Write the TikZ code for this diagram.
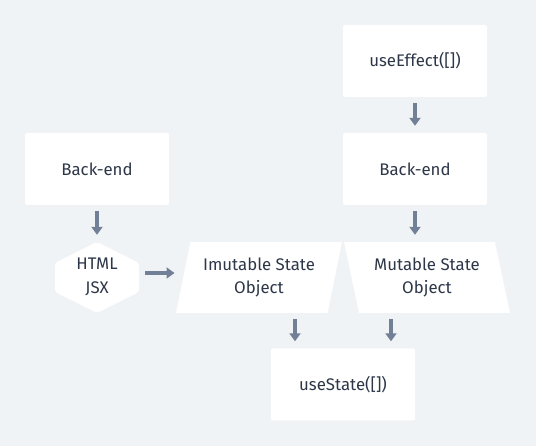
\documentclass[tikz,border=0pt]{standalone}
\usepackage{fontspec}
\setmainfont{Fira Sans}
\usetikzlibrary{arrows.meta,shapes.geometric}
\definecolor{bgcol}{HTML}{F0F3F6}
\definecolor{arrcol}{HTML}{718096}
\definecolor{txtcol}{HTML}{2D3748}
\tikzset{
  box/.style={rectangle, fill=white, rounded corners=2pt, minimum width=144pt, minimum height=72pt},
  para/.style={trapezium, fill=white, trapezium stretches, minimum width=166pt, minimum height=71pt, align=center},
  arr/.style={arrcol, line width=3.5pt, -{Triangle[width=11pt,length=8pt]}, shorten <=6pt, shorten >=7pt}
}

\begin{document}
\begin{tikzpicture}[x=1pt,y=-1pt, font=\fontsize{16.8}{23.5}\selectfont, text=txtcol]
  \fill[bgcol] (0,0) rectangle (536,446);
  \useasboundingbox (0,0) rectangle (536,446);
  % hexagon behind the html node
  \coordinate (hc) at (97,277);
  \fill[white, rounded corners=3pt] (hc) ++(0,-35) -- ++(42,21) -- ++(0,29) -- ++(-42,21) -- ++(-42,-21) -- ++(0,-29) -- cycle;
  \node[minimum width=84pt, minimum height=70pt, align=center] (hex) at (hc) {HTML\\JSX};
  \node[box] (effect) at (415,61) {useEffect([])};
  \node[box] (backR) at (415,169) {Back-end};
  \node[box] (backL) at (97,169) {Back-end};
  \node[para, trapezium left angle=75, trapezium right angle=105] (imu) at (259,277.5) {Imutable State\\Object};
  \node[para, trapezium left angle=105, trapezium right angle=75] (mut) at (427,277.5) {Mutable State\\Object};
  \node[box] (state) at (343,384.5) {useState([])};
  % arrows
  \coordinate (sl) at ([xshift=-48pt]state.north);
  \coordinate (sr) at ([xshift=48pt]state.north);
  \draw[arr] (effect) -- (backR);
  \draw[arr] (backR.south) -- (backR.south |- mut.north);
  \draw[arr] (backL) -- (hex);
  \draw[arr, shorten >=8.5pt] ([yshift=4pt]hex.east) -- ([yshift=4pt]hex.east -| imu.west);
  \draw[arr] (imu.south -| sl) -- (sl);
  \draw[arr] (mut.south -| sr) -- (sr);
\end{tikzpicture}
\end{document}
